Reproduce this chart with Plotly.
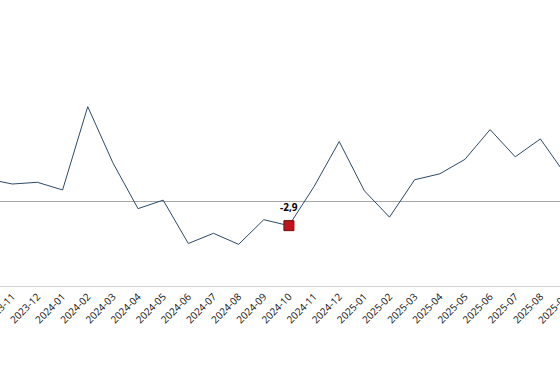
import plotly.graph_objects as go

months = ["2023-10", "2023-11", "2023-12", "2024-01", "2024-02", "2024-03", "2024-04",
          "2024-05", "2024-06", "2024-07", "2024-08", "2024-09", "2024-10", "2024-11",
          "2024-12", "2025-01", "2025-02", "2025-03", "2025-04", "2025-05", "2025-06",
          "2025-07", "2025-08", "2025-09"]
values = [2.6, 2.0, 2.2, 1.3, 11.1, 4.5, -0.9, 0.1, -5.0, -3.8, -5.1, -2.2, -2.9, 1.7,
          7.0, 1.2, -1.9, 2.5, 3.2, 4.9, 8.4, 5.2, 7.3, 3.1]
highlight_month = "2024-10"
highlight_value = -2.9
highlight_label = "-2,9"

fig = go.Figure()
fig.add_trace(go.Scatter(
    x=months, y=values, mode="lines",
    line=dict(color="#2e4a66", width=1),
    hoverinfo="skip", showlegend=False,
))
fig.add_trace(go.Scatter(
    x=[highlight_month], y=[highlight_value], mode="markers",
    marker=dict(symbol="square", size=10, color="#c0121b",
                line=dict(color="#7a0a0a", width=1)),
    showlegend=False,
))
fig.add_annotation(
    x=highlight_month, y=highlight_value, text="<b>" + highlight_label + "</b>",
    showarrow=False, yshift=19, font=dict(size=10, color="#000000", family="Open Sans"),
)
# tick label of the last month, which sits just past the visible edge of the axis
fig.add_annotation(
    xref="paper", yref="paper", x=553 / 560, y=-22 / 255,
    xanchor="center", yanchor="middle", textangle=-45,
    text=months[-1], showarrow=False,
    font=dict(size=10, color="#111111", family="Open Sans"),
)

fig.update_layout(
    width=560, height=380,
    margin=dict(l=0, r=0, t=31, b=94, autoexpand=False),
    paper_bgcolor="white", plot_bgcolor="white",
    font=dict(family="Open Sans", size=10, color="#000000"),
    xaxis=dict(
        type="category", range=[0.511, 22.78], automargin=False,
        showgrid=False, showline=True, linecolor="#d4d4d4", linewidth=1,
        ticks="", tickangle=-45, tickfont=dict(size=10, color="#111111"),
        zeroline=False,
    ),
    yaxis=dict(
        range=[-10, 20], showgrid=False, showticklabels=False, ticks="",
        automargin=False,
        zeroline=True, zerolinecolor="#a6a6a6", zerolinewidth=1, showline=False,
    ),
)

fig.write_html(
    "out.html",
    config={"displayModeBar": False},
    post_script="document.body.style.margin='0';document.body.style.overflow='hidden';",
)
